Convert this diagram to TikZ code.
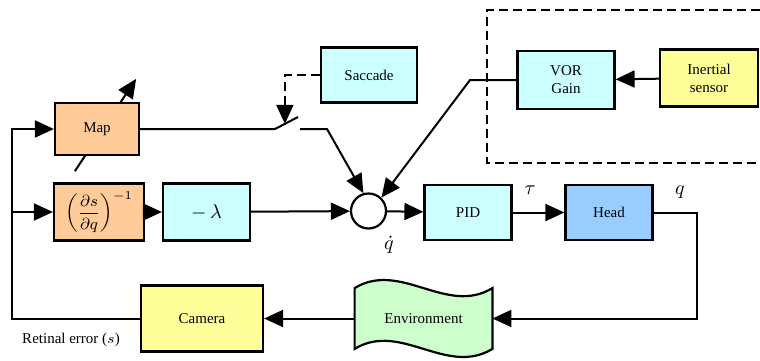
\documentclass[tikz,border=0pt]{standalone}
\usepackage{amsmath}
\usepackage{fontspec}
\setmainfont{Liberation Serif}
\usepackage{tikz}
\usetikzlibrary{arrows.meta,positioning,calc,backgrounds}
\definecolor{gzpeach}{HTML}{FFCC99}
\definecolor{gzcyan}{HTML}{CCFFFF}
\definecolor{gzyellow}{HTML}{FFFF99}
\definecolor{gzblue}{HTML}{99CCFF}
\definecolor{gzgreen}{HTML}{CCFFCC}
\tikzset{
  gzblock/.style={
    draw=black,
    line width=1.1pt,
    align=center,
    inner sep=1pt,
    font=\fontsize{7.5}{9}\selectfont
  },
  gzmapbox/.style={gzblock,fill=gzpeach},
  gzgainbox/.style={gzblock,fill=gzcyan},
  gzsensbox/.style={gzblock,fill=gzyellow},
  gzplantbox/.style={gzblock,fill=gzblue},
  gzsum/.style={circle,draw=black,fill=white,line width=1.1pt,
                minimum size=17.5pt,inner sep=0pt},
  gzwave/.style={draw=black,fill=gzgreen,line width=1.1pt},
  gzline/.style={line width=1pt},
  gzflow/.style={-{Triangle[length=9.5pt,width=8.5pt]},line width=1pt},
  gzdash/.style={line width=1pt,dash pattern=on 4.5pt off 2.5pt},
  gzdashflow/.style={gzdash,-{Triangle[length=9.5pt,width=8.5pt]}},
  gzmath/.style={font=\fontsize{10}{12}\selectfont,inner sep=0pt},
  gznote/.style={font=\fontsize{7.5}{9}\selectfont,inner sep=0pt}
}

\begin{document}
\begin{tikzpicture}[x=0.5pt,y=-0.5pt]
  \useasboundingbox (0,0) rectangle (760,360);

  \node[gzmapbox,minimum width=42pt,minimum height=26pt] (map) at (97,129) {Map};
  \node[gzmapbox,minimum width=45pt,minimum height=28.5pt,font=\fontsize{8.5}{9}\selectfont] (dsdq) at (99,212)
    {$\left(\dfrac{\partial s}{\partial q}\right)^{-1}$};
  \node[gzgainbox,minimum width=43.5pt,minimum height=28.5pt,font=\fontsize{10}{11}\selectfont] (lam) at (206.5,212) {$-\,\lambda$};
  \node[gzgainbox,minimum width=48pt,minimum height=27.5pt] (sacc) at (369,75) {Saccade};
  \node[gzgainbox,minimum width=48.5pt,minimum height=29pt] (vor) at (566,80) {VOR\\Gain};
  \node[gzsensbox,minimum width=49pt,minimum height=28.5pt] (inert) at (709,78) {Inertial\\sensor};
  \node[gzsum] (sum) at (368.5,211) {};
  \node[gzgainbox,minimum width=43.5pt,minimum height=27.5pt] (pid) at (468,212.5) {PID};
  \node[gzplantbox,minimum width=43.5pt,minimum height=27.5pt] (head) at (609,212.5) {Head};
  \node[gzsensbox,minimum width=61pt,minimum height=33pt] (cam) at (202,318.5) {Camera};
  \node[gznote,minimum width=68.5pt,minimum height=30pt] (env) at (423.5,318.5) {Environment};

  \begin{scope}[on background layer]
    \draw[gzwave] (env.north west) .. controls +(46,-28) and +(-46,28) .. (env.north east)
      -- (env.south east) .. controls +(-46,28) and +(46,-28) .. (env.south west) -- cycle;
    \draw[gzflow] ($(map.south west)+(21,15)$) -- ($(map.north east)+(-4,-23)$);
  \end{scope}

  \draw[gzdash] (760,10) -- (487,10) -- (487,163) -- (760,163);

  \node[gzmath] (tau) at (530,190) {$\tau$};
  \node[gzmath] (qlab) at (680,192) {$q$};
  \node[gzmath] (qdot) at (389,245) {$\dot q$};
  \node[gznote] (reterr) at (71,340) {Retinal error ($s$)};

  \coordinate (fbtop) at (12,129);
  \coordinate (fbmid) at (12,212);
  \draw[gzflow] (cam.west) -| (fbtop) -- (map.west);
  \draw[gzflow] (fbmid) -- (dsdq.west);
  \draw[gzflow] (dsdq) -- (lam);
  \draw[gzflow] (lam) -- (sum);

  \coordinate (swa) at (275,129);
  \coordinate (swb) at (298,117);
  \coordinate (swc) at (300,129);
  \coordinate (swd) at (327,129);
  \coordinate (swmid) at ($(swa)!0.43!(swb)$);
  \draw[gzline] (map.east) -- (swa) -- (swb);
  \draw[gzflow] (swc) -- (swd) -- (sum.106);
  \draw[gzdashflow] (sacc.west) -| (swmid);

  \coordinate (vorbend) at (470,80);
  \draw[gzflow] (inert) -- (vor);
  \draw[gzflow] (vor.west) -- (vorbend) -- (sum.46);

  \draw[gzflow] (sum) -- (pid);
  \draw[gzflow] (pid) -- (head);
  \coordinate (headbend) at (697,212.5);
  \draw[gzflow] (head.east) -- (headbend) |- (env.east);
  \draw[gzflow] (env.west) -- (cam.east);
\end{tikzpicture}
\end{document}
